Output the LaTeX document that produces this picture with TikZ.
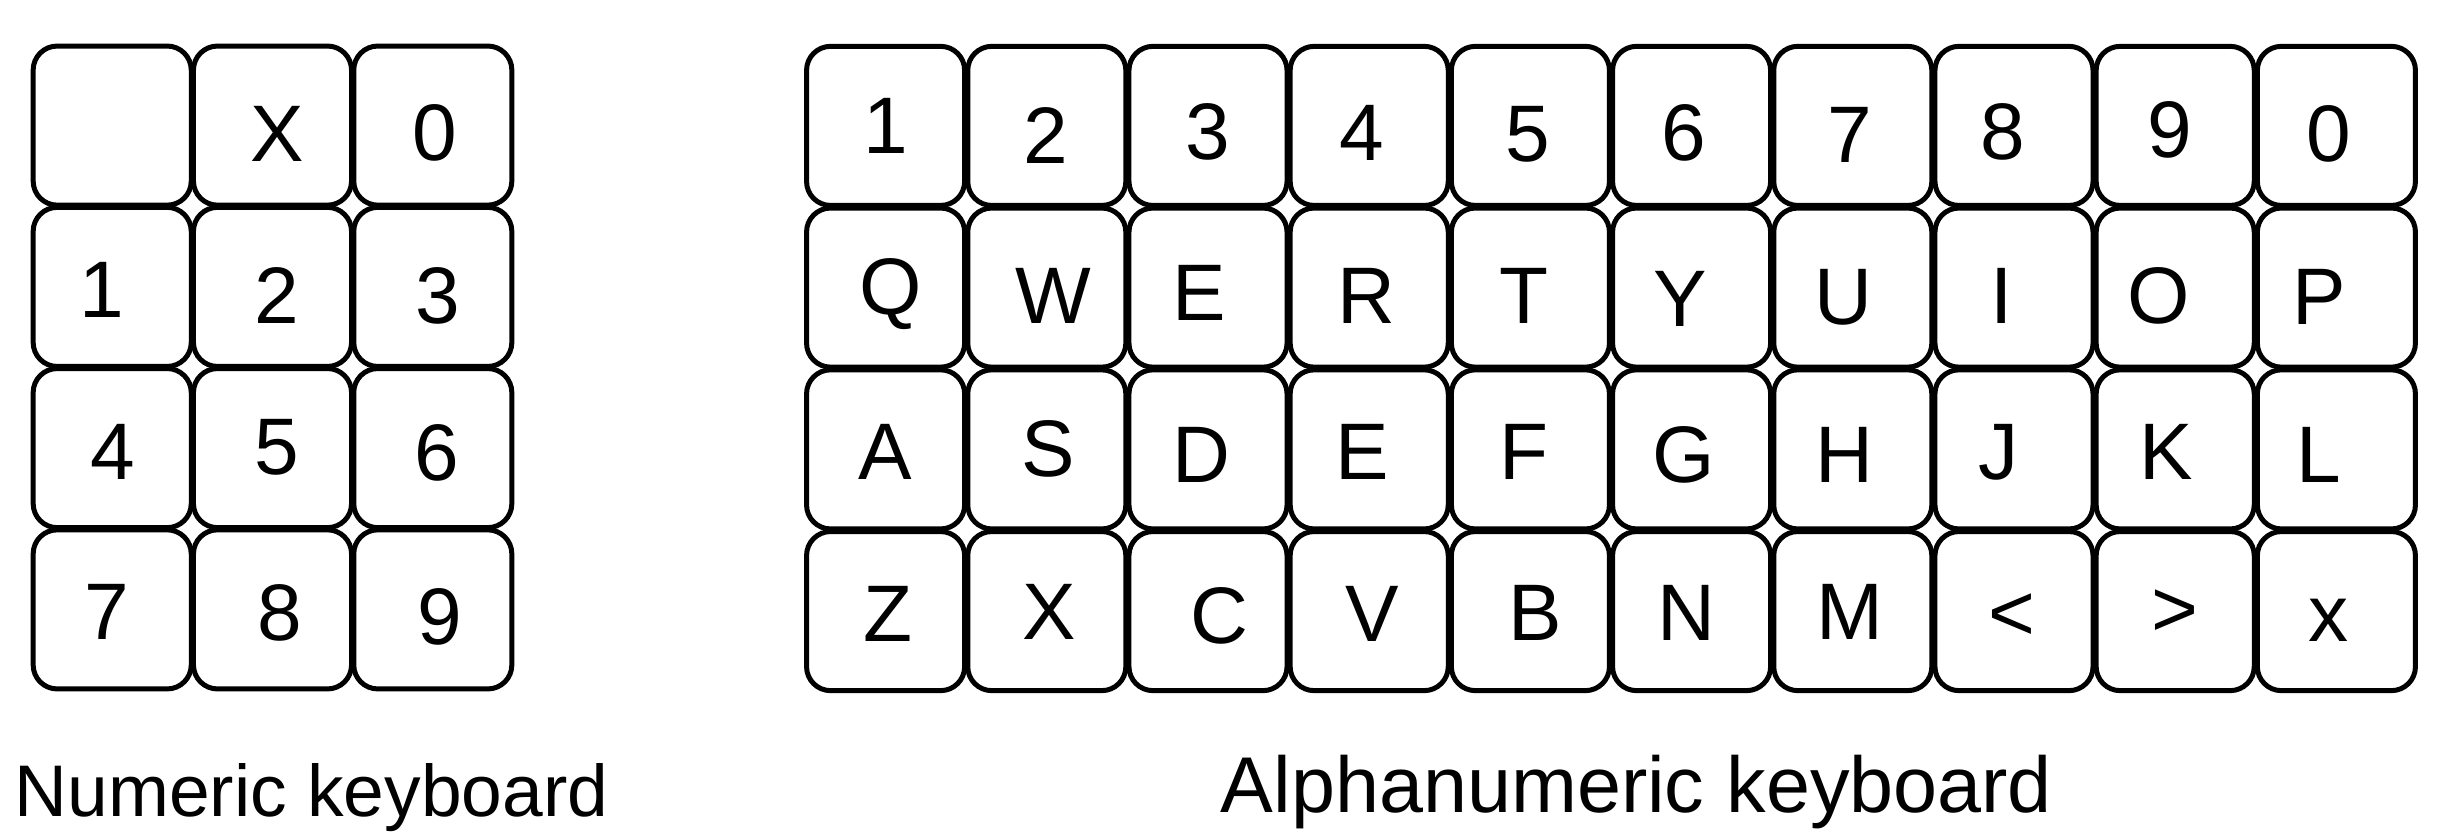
\documentclass[tikz,border=0pt]{standalone}
\usepackage{fontspec}
\setmainfont{Liberation Sans}
\newcommand{\kbkey}[6]{%
  \node[keybox] (#1) at (#2,#3) {};
  \node[keytext] (#1t) at (#5,#6) {#4};}
\begin{document}
\begin{tikzpicture}[x=0.01cm,y=-0.01cm,
  keybox/.style={draw=black,line width=1.42pt,rounded corners=0.24cm,
    minimum width=1.58cm,minimum height=1.59cm,inner sep=0pt,outer sep=0pt,fill=white},
  keytext/.style={inner sep=0pt,outer sep=0pt,font=\fontsize{22.8}{27}\selectfont},
  caption/.style={inner sep=0pt,outer sep=0pt,anchor=base}]
\useasboundingbox[fill=white] (0,0) rectangle (2444,840);
% Numeric keyboard
\kbkey{nb}{112.2}{125.6}{}{112.2}{125.6}
\kbkey{nx}{272.5}{125.6}{X}{277.7}{134.3}
\kbkey{nz}{432.8}{125.6}{0}{434.8}{133}
\kbkey{n1}{112.2}{286.9}{1}{101.8}{290.4}
\kbkey{n2}{272.5}{286.9}{2}{276.8}{296}
\kbkey{n3}{432.8}{286.9}{3}{437.5}{296}
\kbkey{n4}{112.2}{448.1}{4}{112.5}{452}
\kbkey{n5}{272.5}{448.1}{5}{276.8}{447.7}
\kbkey{n6}{432.8}{448.1}{6}{436.6}{453.4}
\kbkey{n7}{112.2}{609.4}{7}{106.3}{611.8}
\kbkey{n8}{272.5}{609.4}{8}{279.5}{613}
\kbkey{n9}{432.8}{609.4}{9}{440}{616.7}
% Alphanumeric keyboard, row 1
\kbkey{a1}{885.6}{125.9}{1}{886}{126}
\kbkey{a2}{1046.8}{125.9}{2}{1045.6}{135.4}
\kbkey{a3}{1208.0}{125.9}{3}{1207.5}{132}
\kbkey{a4}{1369.2}{125.9}{4}{1361.5}{133}
\kbkey{a5}{1530.4}{125.9}{5}{1527.5}{134}
\kbkey{a6}{1691.6}{125.9}{6}{1683.4}{132.5}
\kbkey{a7}{1852.8}{125.9}{7}{1849.5}{135.4}
\kbkey{a8}{2014.0}{125.9}{8}{2002.6}{132}
\kbkey{a9}{2175.2}{125.9}{9}{2169.9}{129.7}
\kbkey{a0}{2336.4}{125.9}{0}{2329}{134}
% row 2
\kbkey{aq}{885.6}{287.6}{Q}{890.5}{293.8}
\kbkey{aw}{1046.8}{287.6}{W}{1053.4}{296}
\kbkey{ae}{1208.0}{287.6}{E}{1199.6}{292.7}
\kbkey{ar}{1369.2}{287.6}{R}{1366}{296}
\kbkey{at}{1530.4}{287.6}{T}{1524.4}{296.2}
\kbkey{ay}{1691.6}{287.6}{Y}{1680.3}{299.3}
\kbkey{au}{1852.8}{287.6}{U}{1843.6}{297}
\kbkey{ai}{2014.0}{287.6}{I}{2001.4}{296}
\kbkey{ao}{2175.2}{287.6}{O}{2159}{296}
\kbkey{ap}{2336.4}{287.6}{P}{2319}{297}
% row 3
\kbkey{aa}{885.6}{449.4}{A}{885}{452}
\kbkey{as}{1046.8}{449.4}{S}{1048}{448.8}
\kbkey{ad}{1208.0}{449.4}{D}{1201.9}{454.5}
\kbkey{ae2}{1369.2}{449.4}{E}{1362.6}{452}
\kbkey{af}{1530.4}{449.4}{F}{1524.4}{452}
\kbkey{ag}{1691.6}{449.4}{G}{1683.4}{455.1}
\kbkey{ah}{1852.8}{449.4}{H}{1844.8}{454.5}
\kbkey{aj}{2014.0}{449.4}{J}{1999}{452}
\kbkey{ak}{2175.2}{449.4}{K}{2166}{452}
\kbkey{al}{2336.4}{449.4}{L}{2319}{454.5}
% row 4
\kbkey{az}{885.6}{611.1}{Z}{888.3}{614}
\kbkey{ax}{1046.8}{611.1}{X}{1049}{612}
\kbkey{ac}{1208.0}{611.1}{C}{1219.7}{616.4}
\kbkey{av}{1369.2}{611.1}{V}{1372.6}{614}
\kbkey{ab}{1530.4}{611.1}{B}{1535.3}{612.6}
\kbkey{an}{1691.6}{611.1}{N}{1686.5}{612.6}
\kbkey{am}{1852.8}{611.1}{M}{1849.5}{611.8}
\kbkey{alt}{2014.0}{611.1}{<}{2012}{617.5}
\kbkey{agt}{2175.2}{611.1}{>}{2175}{612.8}
\kbkey{adel}{2336.4}{611.1}{x}{2329}{620}
% captions
\node[caption,font=\fontsize{20.8}{25}\selectfont] (numcap) at (311.5,817) {Numeric keyboard};
\node[caption,font=\fontsize{22.5}{27}\selectfont] (alphacap) at (1636.5,813) {Alphanumeric keyboard};
\end{tikzpicture}
\end{document}
